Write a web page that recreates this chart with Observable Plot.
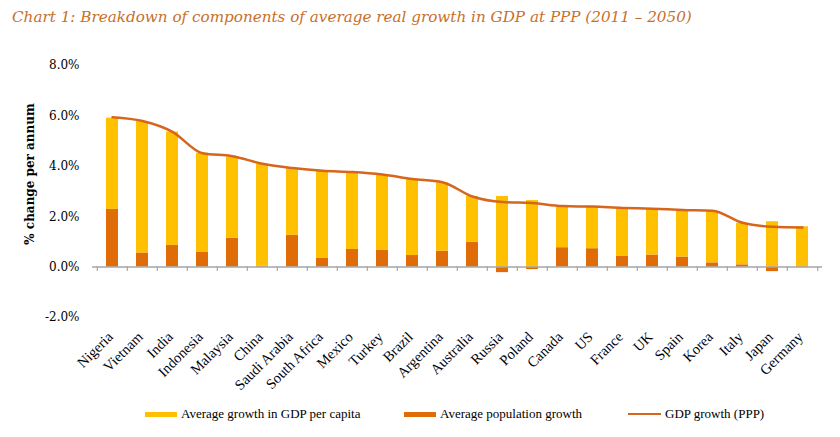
<!DOCTYPE html>
<html><head><meta charset="utf-8">
<script src="https://cdn.jsdelivr.net/npm/d3@7"></script>
<script src="https://cdn.jsdelivr.net/npm/@observablehq/plot@0.6"></script>
<style>
body{margin:0;background:#fff;width:840px;height:437px;position:relative;overflow:hidden}
#title{position:absolute;left:12px;top:8px;font:italic 15.2px "DejaVu Serif";color:#C8702A;white-space:nowrap}
#chart{position:absolute;left:0;top:40px}
.leg{position:absolute;top:406px;font:13px "Liberation Serif";color:#000;white-space:nowrap;display:flex;align-items:center;height:16px}
.sw{display:inline-block;width:32px;height:5px;margin-right:4px}
.ln{display:inline-block;width:33px;height:2.5px;margin-right:4px}
</style></head><body>
<div id="title"></div>
<div id="chart"></div>
<div id="legend"></div>
<script>
const titleText = "Chart 1: Breakdown of components of average real growth in GDP at PPP (2011 \u2013 2050)";
const yLabel = "% change per annum";
const countries = ["Nigeria","Vietnam","India","Indonesia","Malaysia","China","Saudi Arabia","South Africa","Mexico","Turkey","Brazil","Argentina","Australia","Russia","Poland","Canada","US","France","UK","Spain","Korea","Italy","Japan","Germany"];
const perCapita = [3.62,5.22,4.50,3.92,3.22,4.05,2.64,3.44,3.07,2.98,3.01,2.72,1.81,2.80,2.64,1.64,1.65,1.88,1.81,1.85,2.04,1.65,1.80,1.60];
const population = [2.29,0.56,0.86,0.60,1.15,0.03,1.26,0.36,0.70,0.66,0.46,0.63,0.99,-0.22,-0.10,0.77,0.73,0.44,0.48,0.40,0.17,0.09,-0.18,-0.02];
const gdpGrowth = [5.95,5.80,5.37,4.52,4.40,4.10,3.93,3.82,3.77,3.67,3.50,3.37,2.80,2.58,2.54,2.42,2.40,2.35,2.32,2.27,2.24,1.76,1.60,1.57];
const yTicks = [-2,0,2,4,6,8];
const seriesNames = ["Average growth in GDP per capita","Average population growth","GDP growth (PPP)"];
const colors = ["#FFC000","#E06C07","#D5661C"];

document.getElementById("title").textContent = titleText;

const bars = [];
countries.forEach((c,i)=>{
  bars.push({country:c, series:seriesNames[1], value:population[i]});
  bars.push({country:c, series:seriesNames[0], value:perCapita[i]});
});
const line = countries.map((c,i)=>({country:c, value:gdpGrowth[i]}));

const step = 730/24;
const chart = Plot.plot({
  width: 840, height: 360,
  marginLeft: 92, marginRight: 18, marginTop: 25, marginBottom: 83,
  style: {fontFamily: "DejaVu Serif", background: "#fff"},
  x: {domain: countries, paddingInner: 0.6, paddingOuter: 0.3, label: null},
  y: {domain: [-2, 8], label: null},
  color: {domain: [seriesNames[0], seriesNames[1]], range: [colors[0], colors[1]]},
  marks: [
    Plot.barY(bars, {x:"country", y:"value", fill:"series", order:[seriesNames[1], seriesNames[0]]}),
    Plot.ruleY([0], {stroke:"#A6A6A6", strokeWidth:1.5}),
    Plot.ruleX(countries, {x: d=>d, y1:0, y2:-0.17, dx:-step/2, stroke:"#A6A6A6", strokeWidth:1.2}),
    Plot.ruleX([countries[countries.length-1]], {x: d=>d, y1:0, y2:-0.17, dx:step/2, stroke:"#A6A6A6", strokeWidth:1.2}),
    Plot.lineY(line, {x:"country", y:"value", stroke:colors[2], strokeWidth:2.5, curve:"monotone-x"}),
    Plot.axisY({ticks: yTicks, tickFormat: d=>d.toFixed(1)+"%", tickSize:0, tickPadding:13, fontSize:12, fontFamily:"DejaVu Serif", label:null}),
    Plot.axisX({tickSize:0, tickRotate:-45, tickPadding:17, dx:-2, fontSize:14.5, fontFamily:"Liberation Serif", label:null})
  ]
});
document.getElementById("chart").appendChild(chart);
d3.select(chart).append("text")
  .attr("transform","translate(34,134) rotate(-90)")
  .attr("text-anchor","middle")
  .attr("font-family","DejaVu Serif").attr("font-weight","bold").attr("font-size","12px")
  .attr("fill","#000").text(yLabel);

const leg = document.getElementById("legend");
const legLeft = [145, 404, 628];
seriesNames.forEach((s,i)=>{
  const d = document.createElement("div");
  d.className = "leg"; d.style.left = legLeft[i]+"px";
  const sw = document.createElement("span");
  sw.className = i<2 ? "sw" : "ln"; sw.style.background = colors[i];
  d.appendChild(sw); d.appendChild(document.createTextNode(s));
  leg.appendChild(d);
});
</script>
</body></html>
